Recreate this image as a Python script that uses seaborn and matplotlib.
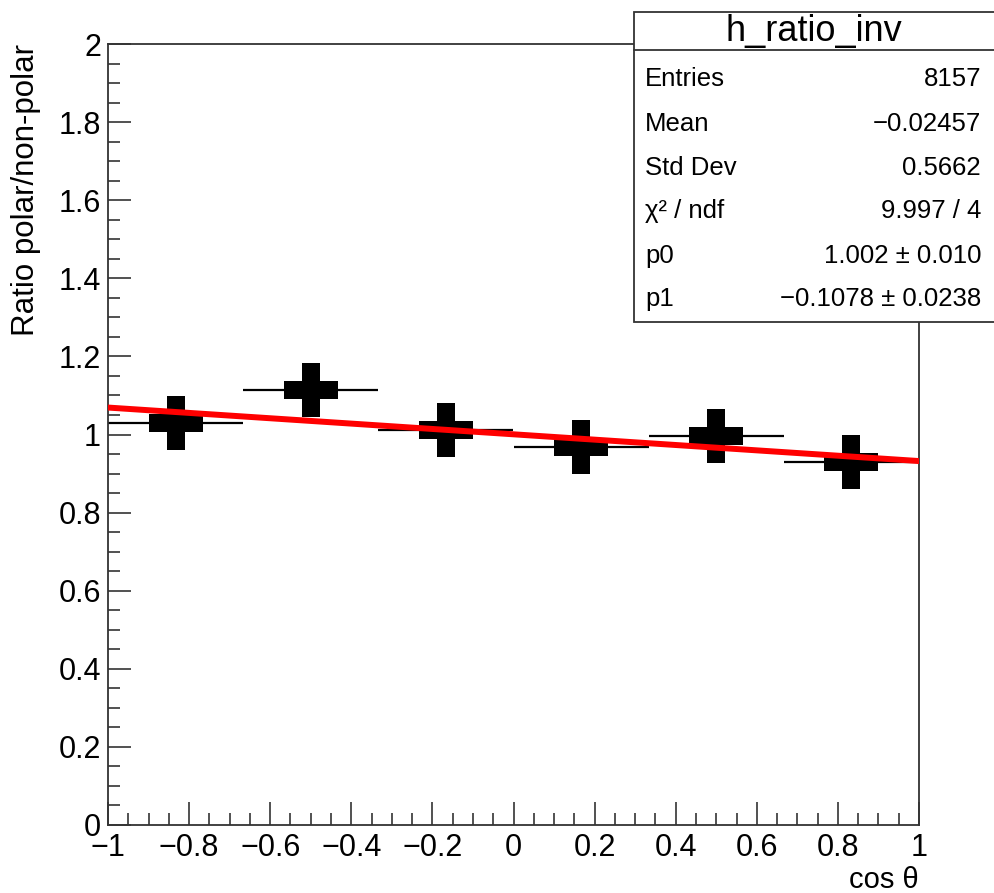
import numpy as np
import pandas as pd
import matplotlib
matplotlib.use("Agg")
import matplotlib.pyplot as plt
from matplotlib.patches import Rectangle
from matplotlib.lines import Line2D
from matplotlib.ticker import MultipleLocator
import seaborn as sns

# ---- data ----
bin_centers = [-0.8333, -0.5, -0.1667, 0.1667, 0.5, 0.8333]
bin_halfwidth = [1/6, 1/6, 1/6, 1/6, 1/6, 1/6]
ratio_values = [1.030, 1.114, 1.012, 0.968, 0.997, 0.929]
fit_x = [-1.0, 1.0]
fit_y = [1.069, 0.932]

x_ticks = [-1, -0.8, -0.6, -0.4, -0.2, 0, 0.2, 0.4, 0.6, 0.8, 1]
y_ticks = [0, 0.2, 0.4, 0.6, 0.8, 1, 1.2, 1.4, 1.6, 1.8, 2]

stats_title = "h_ratio_inv"
stats_labels = ["Entries", "Mean", "Std Dev", "\u03c7\u00b2 / ndf", "p0", "p1"]
stats_values = ["8157", "\u22120.02457", "0.5662", "9.997 / 4",
                "1.002 \u00b1 0.010", "\u22120.1078 \u00b1 0.0238"]

df = pd.DataFrame({"x": bin_centers, "y": ratio_values, "xerr": bin_halfwidth})
fit_df = pd.DataFrame({"x": fit_x, "y": fit_y})

sns.set_theme(style="ticks")
plt.rcParams["font.family"] = ["Liberation Sans", "DejaVu Sans"]
plt.rcParams["text.color"] = "black"
plt.rcParams["axes.labelcolor"] = "black"

W, H = 994, 893
fig = plt.figure(figsize=(W / 100, H / 100), dpi=100)
ax = fig.add_axes([108 / W, 1 - 825 / H, (919 - 108) / W, (825 - 44) / H])

# horizontal bin-width bars
ax.errorbar(df["x"], df["y"], xerr=df["xerr"], fmt="none", ecolor="black",
            elinewidth=1.6, capsize=0, zorder=2)
# thick filled-cross markers
sns.scatterplot(data=df, x="x", y="y", marker="P", s=39 ** 2, color="black",
                linewidth=0, ax=ax, zorder=3, legend=False)
# fit line
sns.lineplot(data=fit_df, x="x", y="y", color="#ff0000", linewidth=4.3,
             ax=ax, zorder=4, legend=False)

ax.set_xlim(-1, 1)
ax.set_ylim(0, 2)
ax.set_xticks(x_ticks)
ax.set_yticks(y_ticks)
ax.set_xticklabels([("\u2212" if t < 0 else "") + f"{abs(t):g}" for t in x_ticks])
ax.set_yticklabels([f"{t:g}" for t in y_ticks])
ax.xaxis.set_minor_locator(MultipleLocator(0.05))
ax.yaxis.set_minor_locator(MultipleLocator(0.05))
ax.tick_params(axis="both", which="major", direction="in", length=16.5, width=1.2,
               color="#333333", labelsize=22, labelcolor="black")
ax.tick_params(axis="both", which="minor", direction="in", length=8.5, width=1.2,
               color="#333333")
ax.tick_params(axis="x", which="major", pad=6)
ax.tick_params(axis="y", which="major", pad=5)
ax.tick_params(top=False, right=False, which="both")
for sp in ax.spines.values():
    sp.set_visible(True)
    sp.set_linewidth(1.3)
    sp.set_color("#333333")

ax.set_xlabel("cos \u03b8", loc="right", fontsize=21, color="black")
ax.xaxis.set_label_coords(1.0, -0.052)
ax.set_ylabel("Ratio polar/non-polar", loc="top", fontsize=22.5, color="black")
ax.yaxis.set_label_coords(-0.082, 1.0)

# statistics box
bx0, bx1 = 634 / W, 1.0
by_top, by_bot, by_sep = 1 - 12 / H, 1 - 322 / H, 1 - 50 / H
fig.patches.append(Rectangle((bx0, by_bot), bx1 - bx0 + 0.01, by_top - by_bot,
                             transform=fig.transFigure, facecolor="white",
                             edgecolor="#333333", linewidth=1.3, zorder=10))
fig.lines.append(Line2D([bx0, 1.0], [by_sep, by_sep], transform=fig.transFigure,
                        color="#333333", linewidth=1.3, zorder=11))
fig.text(814 / W, 1 - 32 / H, stats_title, ha="center", va="center",
         fontsize=26, color="black", zorder=12)
row_y = [79, 124, 168, 211, 256, 299]
for lab, val, yy in zip(stats_labels, stats_values, row_y):
    fig.text(645 / W, 1 - yy / H, lab, ha="left", va="center", fontsize=18.5,
             color="black", zorder=12)
    fig.text(981 / W, 1 - yy / H, val, ha="right", va="center", fontsize=18.5,
             color="black", zorder=12)

fig.savefig("out.png", dpi=100)
